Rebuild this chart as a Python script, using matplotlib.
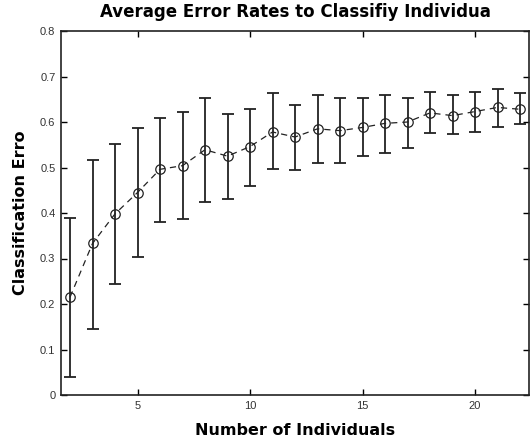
import matplotlib
matplotlib.use("Agg")
import matplotlib.pyplot as plt

# number of individuals
x = [2, 3, 4, 5, 6, 7, 8, 9, 10, 11, 12, 13, 14, 15, 16, 17, 18, 19, 20, 21, 22]
# mean classification error
mean_err = [0.215, 0.333, 0.398, 0.445, 0.496, 0.504, 0.539, 0.525, 0.546, 0.578, 0.567,
            0.585, 0.581, 0.588, 0.597, 0.600, 0.620, 0.614, 0.623, 0.632, 0.628]
# top / bottom of each error bar
upper = [0.388, 0.517, 0.551, 0.587, 0.608, 0.622, 0.652, 0.617, 0.628, 0.664, 0.638,
         0.659, 0.652, 0.652, 0.659, 0.652, 0.666, 0.659, 0.666, 0.673, 0.664]
lower = [0.040, 0.146, 0.244, 0.304, 0.380, 0.386, 0.424, 0.431, 0.460, 0.496, 0.495,
         0.510, 0.510, 0.525, 0.531, 0.543, 0.576, 0.573, 0.579, 0.590, 0.596]

xticks = [5, 10, 15, 20]
yticks = [0, 0.1, 0.2, 0.3, 0.4, 0.5, 0.6, 0.7, 0.8]
yticklabels = ["0", "0.1", "0.2", "0.3", "0.4", "0.5", "0.6", "0.7", "0.8"]

plt.rcParams['font.family'] = ['Liberation Sans', 'DejaVu Sans']

fig = plt.figure(figsize=(5.3, 4.42), dpi=100)
ax = fig.add_axes([61/530, 47/442, 468/530, 364/442])

yerr = [[m - lo for m, lo in zip(mean_err, lower)],
        [up - m for m, up in zip(mean_err, upper)]]

# error bars
ax.errorbar(x, mean_err, yerr=yerr, fmt='none', ecolor='#222222', elinewidth=1.3,
            capsize=4.3, capthick=1.3)
# dashed line with open circles
ax.plot(x, mean_err, linestyle=(0, (5, 4)), color='#222222', linewidth=0.9,
        marker='o', markersize=6.8, markerfacecolor='none', markeredgecolor='#222222',
        markeredgewidth=0.9)

ax.set_xlim(1.6, 22.4)
ax.set_ylim(0, 0.8)
ax.set_xticks(xticks)
ax.set_yticks(yticks)
ax.set_yticklabels(yticklabels)
ax.tick_params(direction='in', length=4, width=1, top=True, right=True,
               labelsize=8, labelcolor='#333333', pad=4)
for s in ax.spines.values():
    s.set_linewidth(1.2)
    s.set_color('#222222')

bold = dict(fontsize=11.5, fontweight='bold', family=['DejaVu Sans'])
ax.set_title("Average Error Rates to Classifiy Individua", pad=10,
             fontsize=12, fontweight='bold', family=['DejaVu Sans'])
ax.set_xlabel("Number of Individuals", labelpad=9, **bold)
ax.set_ylabel("Classification Erro", labelpad=9, **bold)

fig.savefig("out.png", dpi=100)
